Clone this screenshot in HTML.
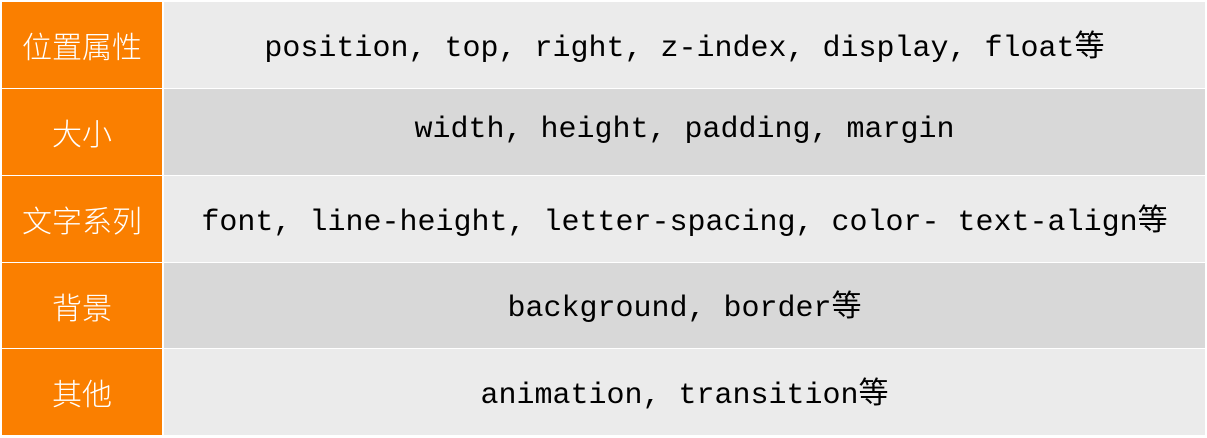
<!DOCTYPE html>
<html><head><meta charset="utf-8"><style>
html,body{margin:0;padding:0;background:#fff;width:1207px;height:438px;overflow:hidden}
.c{position:absolute;display:flex;align-items:center;justify-content:center;white-space:pre}
.l{left:2px;width:160px;background:#fa7f00;color:#fff;font-family:"Liberation Sans","Noto Sans CJK SC",sans-serif;font-size:30px;font-weight:300}
.r{left:164px;width:1041px;color:#000;font-family:"Liberation Mono","Noto Sans CJK SC",monospace;font-size:30px}
.r span{position:relative;top:-2px}
.a{background:#ebebeb}.b{background:#d8d8d8}
</style></head><body>
<div class="c l" style="top:2px;height:86px">位置属性</div>
<div class="c r a" style="top:2px;height:86px"><span>position, top, right, z-index, display, float等</span></div>
<div class="c l" style="top:89px;height:86px">大小</div>
<div class="c r b" style="top:89px;height:86px"><span>width, height, padding, margin</span></div>
<div class="c l" style="top:176px;height:86px">文字系列</div>
<div class="c r a" style="top:176px;height:86px"><span>font, line-height, letter-spacing, color- text-align等</span></div>
<div class="c l" style="top:263px;height:85px">背景</div>
<div class="c r b" style="top:263px;height:85px"><span>background, border等</span></div>
<div class="c l" style="top:349px;height:86px">其他</div>
<div class="c r a" style="top:349px;height:86px"><span>animation, transition等</span></div>
</body></html>
